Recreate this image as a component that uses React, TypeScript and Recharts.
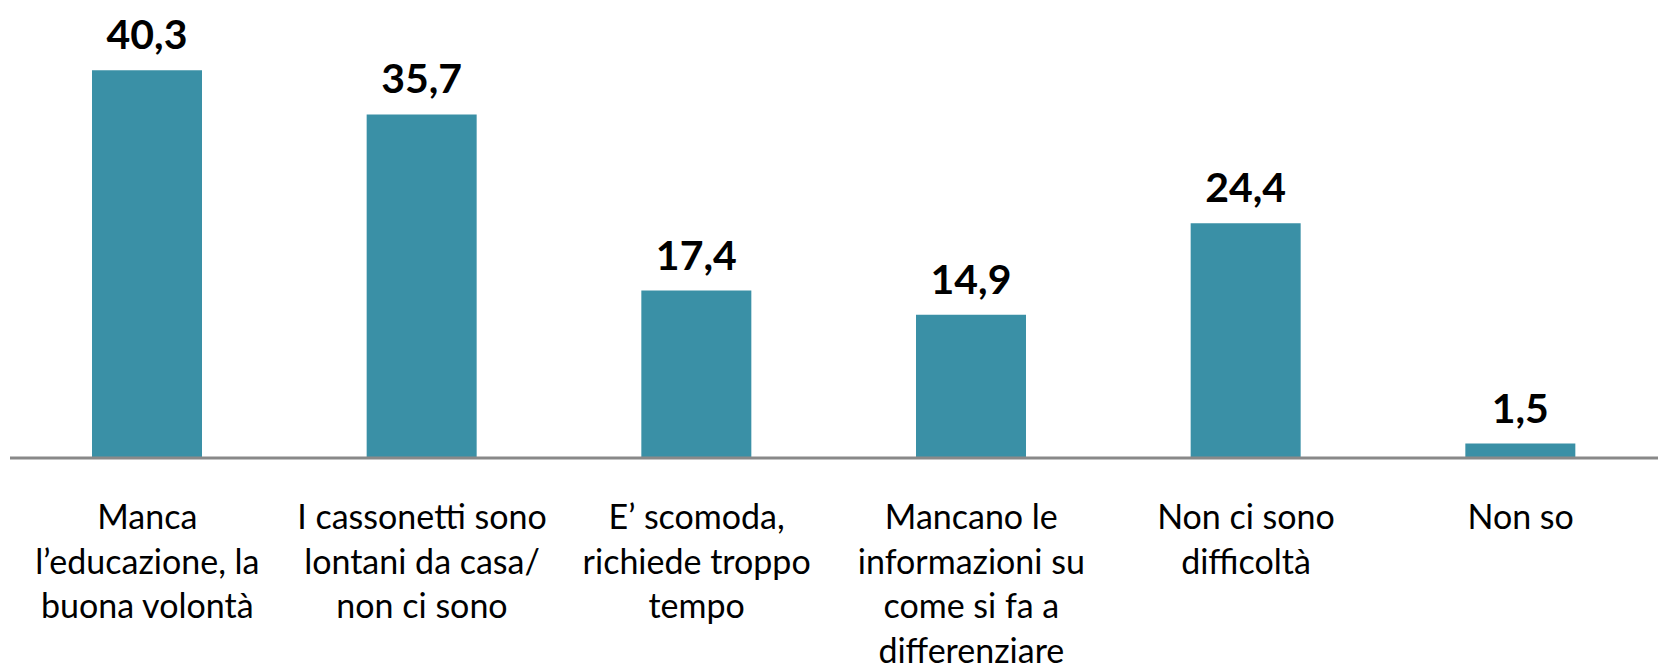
import { BarChart, Bar, XAxis, YAxis, LabelList } from "recharts";

const categories = [
  "Manca l'educazione, la buona volontà",
  "I cassonetti sono lontani da casa/ non ci sono",
  "E' scomoda, richiede troppo tempo",
  "Mancano le informazioni su come si fa a differenziare",
  "Non ci sono difficoltà",
  "Non so",
];

const tickLines = [
  ["Manca", "l\u2019educazione, la", "buona volontà"],
  ["I cassonetti sono", "lontani da casa/", "non ci sono"],
  ["E\u2019 scomoda,", "richiede troppo", "tempo"],
  ["Mancano le", "informazioni su", "come si fa a", "differenziare"],
  ["Non ci sono", "difficoltà"],
  ["Non so"],
];

const values = [40.3, 35.7, 17.4, 14.9, 24.4, 1.5];

const data = categories.map((name, i) => ({ name, idx: i, value: values[i] }));

const FONT = "Lato, 'Open Sans', sans-serif";

const CategoryTick = (props: any) => {
  const { x, y, payload } = props;
  const lines = tickLines[payload.index] || [];
  return (
    <g transform={`translate(${x},${y})`}>
      {lines.map((line, i) => (
        <text
          key={i}
          x={0}
          y={63 + i * 44.5}
          textAnchor="middle"
          fill="#000"
          fontSize={34}
          fontFamily={FONT}
        >
          {line}
        </text>
      ))}
    </g>
  );
};

const ValueLabel = (props: any) => {
  const { x, y, width, value } = props;
  return (
    <text
      x={x + width / 2}
      y={y - 21}
      textAnchor="middle"
      fill="#000"
      fontSize={41}
      fontWeight="bold"
      fontFamily={FONT}
    >
      {Number(value).toFixed(1).replace(".", ",")}
    </text>
  );
};

export default function App() {
  return (
    <div style={{ position: "absolute", left: 0, top: 0, background: "#fff" }}>
      <BarChart
        width={1660}
        height={671}
        data={data}
        margin={{ top: 25, right: 2, left: 10, bottom: 0 }}
      >
        <XAxis
          dataKey="name"
          interval={0}
          tickLine={false}
          axisLine={{ stroke: "#898989", strokeWidth: 3 }}
          tick={<CategoryTick />}
          height={213}
        />
        <YAxis hide domain={[0, 45]} />
        <Bar dataKey="value" fill="#3a90a6" barSize={110} isAnimationActive={false}>
          <LabelList dataKey="value" content={<ValueLabel />} />
        </Bar>
      </BarChart>
    </div>
  );
}
